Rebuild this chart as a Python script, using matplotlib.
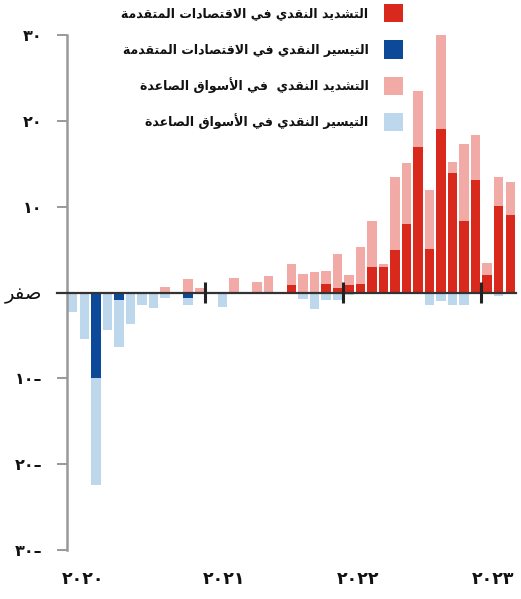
import matplotlib
matplotlib.use("Agg")
import matplotlib.pyplot as plt
import numpy as np

# ---------------- data (monthly, Jan 2020 - Mar 2023) ----------------
ae_tightening = [0, 0, 0, 0, 0, 0, 0, 0, 0, 0, 0, 0,
                 0, 0, 0, 0, 0, 0, 0, 0.9, 0, 0, 0.95, 0.5,
                 0.9, 1.0, 3.0, 3.0, 5.0, 8.0, 16.9, 5.1, 19.1, 13.9, 8.3, 13.1,
                 2.0, 10.1, 9.0]
em_tightening = [0, 0, 0, 0, 0, 0, 0, 0, 0.6, 0, 1.6, 0.5,
                 0, 0, 1.7, 0, 1.2, 1.95, 0, 2.4, 2.2, 2.4, 1.55, 4.0,
                 1.1, 4.3, 5.3, 0.35, 8.4, 7.1, 6.6, 6.9, 10.9, 1.3, 9.0, 5.3,
                 1.4, 3.4, 3.85]
ae_easing = [0, 0, -10.0, 0, -0.9, 0, 0, 0, 0, 0, -0.6, 0,
             0, 0, 0, 0, 0, 0, 0, 0, 0, 0, 0, 0,
             0, 0, 0, 0, 0, 0, 0, 0, 0, 0, 0, 0,
             0, 0, 0]
em_easing = [-2.3, -5.4, -12.4, -4.4, -5.5, -3.7, -1.5, -1.8, -0.6, -0.2, -0.9, 0,
             0, -1.7, 0, 0, 0, 0, 0, 0, -0.8, -1.9, -0.9, -0.9,
             -0.3, 0, 0, 0, 0, 0, 0, -1.4, -1.0, -1.4, -1.4, 0,
             0, -0.4, 0]

series_labels = ["التشديد النقدي في الاقتصادات المتقدمة",
                 "التيسير النقدي في الاقتصادات المتقدمة",
                 "التشديد النقدي  في الأسواق الصاعدة",
                 "التيسير النقدي في الأسواق الصاعدة"]
y_ticks = [30, 20, 10, 0, -10, -20, -30]
y_tick_labels = ["٣٠", "٢٠", "١٠", "صفر", "١٠–", "٢٠–", "٣٠–"]
year_labels = ["٢٠٢٠", "٢٠٢١", "٢٠٢٢", "٢٠٢٣"]
year_label_pos = [1.4, 13.65, 25.3, 37.0]
year_ticks = [12, 24, 36]

# ---------------- minimal Arabic shaping (matplotlib has no shaping) ----------------
_FORMS = {  # isolated, final, initial, medial
    'ا': ('\uFE8D', '\uFE8E', None, None),
    'أ': ('\uFE83', '\uFE84', None, None),
    'ة': ('\uFE93', '\uFE94', None, None),
    'ت': ('\uFE95', '\uFE96', '\uFE97', '\uFE98'),
    'د': ('\uFEA9', '\uFEAA', None, None),
    'ر': ('\uFEAD', '\uFEAE', None, None),
    'س': ('\uFEB1', '\uFEB2', '\uFEB3', '\uFEB4'),
    'ش': ('\uFEB5', '\uFEB6', '\uFEB7', '\uFEB8'),
    'ص': ('\uFEB9', '\uFEBA', '\uFEBB', '\uFEBC'),
    'ع': ('\uFEC9', '\uFECA', '\uFECB', '\uFECC'),
    'ف': ('\uFED1', '\uFED2', '\uFED3', '\uFED4'),
    'ق': ('\uFED5', '\uFED6', '\uFED7', '\uFED8'),
    'ل': ('\uFEDD', '\uFEDE', '\uFEDF', '\uFEE0'),
    'م': ('\uFEE1', '\uFEE2', '\uFEE3', '\uFEE4'),
    'ن': ('\uFEE5', '\uFEE6', '\uFEE7', '\uFEE8'),
    'و': ('\uFEED', '\uFEEE', None, None),
    'ي': ('\uFEF1', '\uFEF2', '\uFEF3', '\uFEF4'),
}
_LAMALEF = {'ا': ('\uFEFB', '\uFEFC'), 'أ': ('\uFEF7', '\uFEF8')}


def shape_ar(s):
    if not any(c in _FORMS for c in s):
        return s
    out = []
    i = 0
    n = len(s)

    def joins_fwd(c):
        return c in _FORMS and _FORMS[c][2] is not None

    while i < n:
        c = s[i]
        if c not in _FORMS:
            out.append(c)
            i += 1
            continue
        prev = s[i - 1] if i > 0 else ''
        jp = joins_fwd(prev)
        if c == 'ل' and i + 1 < n and s[i + 1] in _LAMALEF:
            iso, fin = _LAMALEF[s[i + 1]]
            out.append(fin if jp else iso)
            i += 2
            continue
        nxt = s[i + 1] if i + 1 < n else ''
        jn = joins_fwd(c) and nxt in _FORMS
        iso, fin, ini, med = _FORMS[c]
        if jp and jn:
            out.append(med)
        elif jp:
            out.append(fin)
        elif jn:
            out.append(ini)
        else:
            out.append(iso)
        i += 1
    return ''.join(out)[::-1]


# ---------------- figure ----------------
plt.rcParams['font.family'] = ['DejaVu Sans']
W, H = 521, 599
fig = plt.figure(figsize=(W / 100, H / 100), dpi=100)
ax_left, ax_right = 67, 516
ax_top, ax_bot = 35, 550
ax = fig.add_axes([ax_left / W, 1 - ax_bot / H, (ax_right - ax_left) / W, (ax_bot - ax_top) / H])

c_ae_t = "#d9291c"
c_ae_e = "#0c4a99"
c_em_t = "#f2aaa6"
c_em_e = "#bdd7ec"

x = np.arange(len(ae_tightening)) + 0.5
ae_t = np.array(ae_tightening)
em_t = np.array(em_tightening)
ae_e = np.array(ae_easing)
em_e = np.array(em_easing)
bw = 0.82

b1 = ax.bar(x, ae_t, bw, color=c_ae_t, zorder=2)
b3 = ax.bar(x, em_t, bw, bottom=ae_t, color=c_em_t, zorder=2)
b2 = ax.bar(x, ae_e, bw, color=c_ae_e, zorder=2)
b4 = ax.bar(x, em_e, bw, bottom=ae_e, color=c_em_e, zorder=2)

ax.set_xlim(0, 39)
ax.set_ylim(-30, 30)

for s in ['top', 'right', 'bottom']:
    ax.spines[s].set_visible(False)
ax.spines['left'].set_color('#999999')
ax.spines['left'].set_linewidth(1.8)
ax.spines['left'].set_bounds(-30, 30)

ax.set_xticks([])
ax.set_yticks(y_ticks)
ax.set_yticklabels([shape_ar(t) for t in y_tick_labels])
ax.tick_params(axis='y', direction='out', length=7.5, width=1.4, color='#999999',
               pad=10, labelsize=11.5)
for lab in ax.get_yticklabels():
    lab.set_fontweight('bold')
    lab.set_color('#111111')
zl = ax.get_yticklabels()[3]
zl.set_fontsize(14)
zl.set_fontweight('normal')

# zero line extending across the tick
ax.plot([-10 / 11.5, 39], [0, 0], color='#333333', lw=1.6, zorder=3, clip_on=False)
ax.vlines(year_ticks, -1.2, 1.2, color='#222222', lw=2.2, zorder=4)

for lab, pos in zip(year_labels, year_label_pos):
    ax.text(pos, -33.4, lab, ha='center', va='center', fontsize=12.5, fontweight='bold',
            color='#111111', clip_on=False)

# legend (square on the right of the text)
handles = [b1, b2, b3, b4]
fs = 9.0
fs_px = fs * 100 / 72
leg = fig.legend(handles, [shape_ar(t) for t in series_labels], loc='upper right',
                 bbox_to_anchor=(403 / W, 1 - 4 / H), frameon=False, markerfirst=False,
                 prop={'weight': 'bold', 'size': fs},
                 handlelength=19.5 / fs_px, handleheight=23.5 / fs_px,
                 handletextpad=15 / fs_px, labelspacing=18 / fs_px, borderpad=0,
                 borderaxespad=0)
for t in leg.get_texts():
    t.set_color('#111111')

fig.savefig("out.png", dpi=100)
